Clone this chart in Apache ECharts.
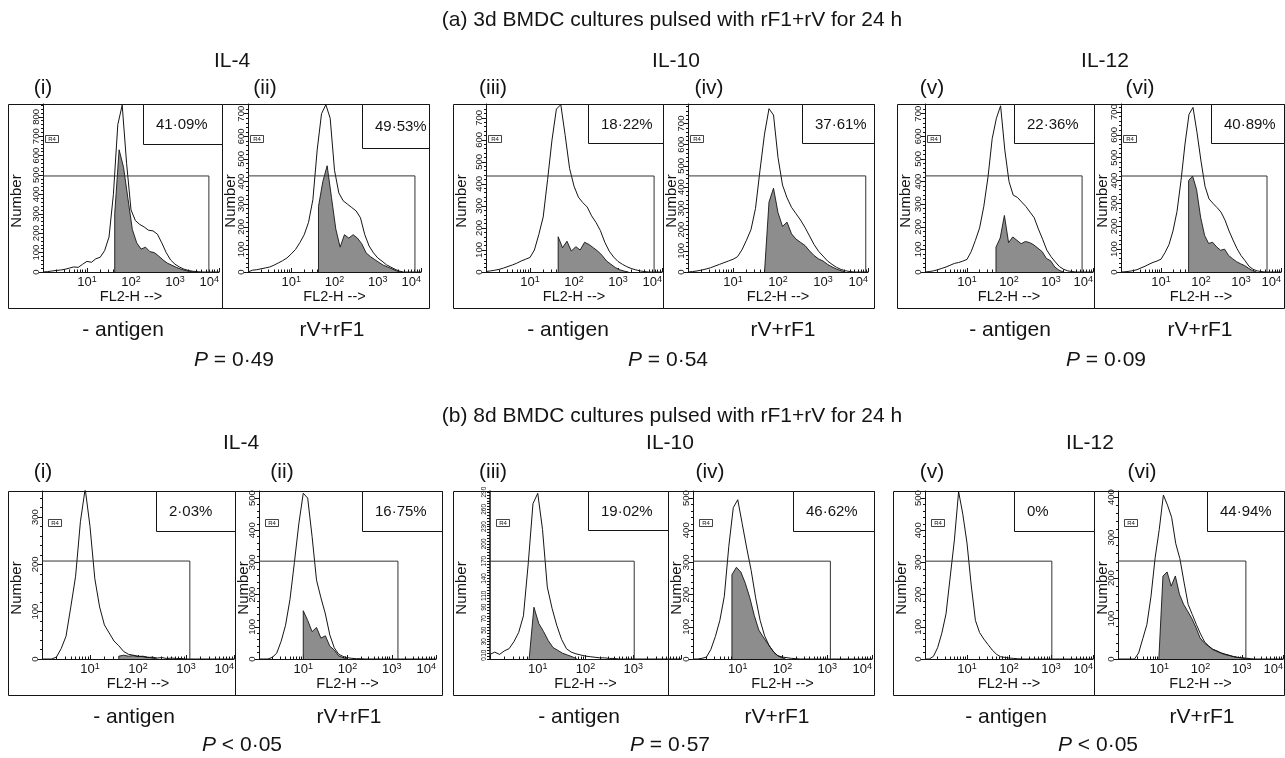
<!DOCTYPE html>
<html>
<head>
<meta charset="utf-8">
<title>BMDC cytokine flow histograms</title>
<script src="https://cdn.jsdelivr.net/npm/echarts@6/dist/echarts.min.js"></script>
<style>
html,body{margin:0;padding:0;background:#ffffff;}
#chart{width:1285px;height:758px;}
</style>
</head>
<body>
<div id="chart"></div>
<script>
// ================= DATA =================
// Histogram bins: log10(FL2-H) from 0 to 4, step 0.1 (41 bins). Values = event counts.
const binStep = 0.1;

// ---- (a) 3d BMDC cultures ----
const openA1 = [0,2,5,8,10,14,20,26,24,40,55,50,68,76,110,180,400,760,860,560,320,265,245,232,215,212,195,150,100,62,40,26,15,8,4,2,0,0,0,0,0];
const openA2 = [0,8,10,14,18,22,30,40,50,62,80,100,130,165,220,320,540,700,740,680,450,350,315,300,285,270,240,165,115,85,62,48,32,22,12,4,0,0,0,0,0];
const openA3 = [2,5,8,12,18,25,32,40,50,58,66,100,170,250,420,600,740,760,620,470,390,340,315,295,255,225,188,135,95,68,48,35,24,16,10,5,2,0,0,0,0];
const openA4 = [0,2,5,9,14,20,28,36,44,52,60,72,105,150,200,300,480,650,770,740,540,410,350,305,275,245,210,170,130,98,75,52,36,22,12,6,2,0,0,0,0];
const openA5 = [0,2,5,10,16,22,30,38,42,48,56,90,140,195,290,420,590,680,735,540,400,340,330,310,290,265,240,190,145,97,68,45,24,12,5,2,0,0,0,0,0];
const openA6 = [0,1,3,6,10,18,25,34,42,48,56,85,120,180,265,400,560,690,720,610,485,375,320,300,282,262,227,180,140,102,72,50,25,12,5,2,0,0,0,0,0];
// filled (stained) histograms: start bin (log10) and counts every 0.1
const fillStartA = [1.63,1.63,1.64,1.70,1.69,1.69];
const fillA1 = [300,630,540,380,220,150,118,128,105,100,82,62,45,35,24,15,8,3,0];
const fillA2 = [290,400,470,330,190,110,165,150,165,150,125,85,68,55,42,30,22,14,5,0];
const fillA3 = [160,110,140,95,115,100,135,125,110,95,75,50,35,20,10,4,0];
const fillA4 = [0,330,395,280,215,235,180,155,140,125,100,78,62,52,36,24,14,6,0];
const fillA5 = [110,150,250,130,155,140,125,135,130,120,105,90,60,50,22,8,0];
const fillA6 = [400,420,360,240,160,125,130,110,95,100,72,58,45,36,28,16,6,0];
const gateYA = [495,425,436,453,425,420];
const gateXA = [3.77,3.86,3.82,3.95,3.74,3.65];
const yMaxA = [866,743,763,792,743,735];
const pctA = ['41·09%','49·53%','18·22%','37·61%','22·36%','40·89%'];
const pValA = ['= 0·49','= 0·54','= 0·09'];

// ---- (b) 8d BMDC cultures ----
const openB1 = [0,0,0,4,22,48,110,175,290,360,280,170,110,72,55,38,28,16,10,8,6,5,3,4,2,3,1,2,1,1,0,0,0,0,0,0,0,0,0,0,0];
const openB2 = [0,0,0,5,18,55,105,185,300,420,515,500,380,245,190,140,75,35,15,8,4,2,1,1,0,0,0,0,0,0,0,0,0,0,0,0,0,0,0,0,0];
const openB3 = [8,12,8,14,18,30,46,75,165,270,288,225,125,88,58,34,18,12,9,7,5,4,3,2,2,1,1,0,0,0,0,0,0,0,0,0,0,0,0,0,0];
const openB4 = [0,0,2,6,30,70,120,195,350,470,495,420,345,275,190,120,72,42,22,10,6,4,2,1,0,0,0,0,0,0,0,0,0,0,0,0,0,0,0,0,0];
const openB5 = [0,0,8,35,80,140,255,370,520,450,360,230,120,82,62,45,28,15,7,5,3,2,1,0,0,0,0,0,0,0,0,0,0,0,0,0,0,0,0,0,0];
const openB6 = [0,0,0,0,0,15,50,85,155,250,320,405,380,350,285,248,190,135,110,85,62,42,32,24,20,15,12,9,6,4,3,2,1,0,0,0,0,0,0,0,0];
const fillStartB = [1.6,1.0,0.82,0.87,0,0.99];
const fillB1 = [6,8,6,7,5,6,4,2,0];
const fillB2 = [150,120,85,98,65,72,40,28,10,4,0];
const fillB3 = [0,90,62,48,32,20,15,10,7,4,0];
const fillB4 = [262,285,270,235,190,135,90,68,48,28,12,5,0];
const fillB5 = [];
const fillB6 = [0,205,215,180,205,160,135,118,100,78,52,40,32,24,19,15,11,9,6,4,3,1,0];
const gateYB = [207,304,170,304,304,242];
const gateXB = [3.08,3.14,3.02,3.07,3.02,3.10];
const yMaxB = [355,522,292,522,522,415];
const pctB = ['2·03%','16·75%','19·02%','46·62%','0%','44·94%'];
const pValB = ['< 0·05','= 0·57','< 0·05'];
const yLabelsB3 = [0,10,30,50,70,90,110,140,170,200,230,260,290];

// ---- text ----
const titles = ['(a) 3d BMDC cultures pulsed with rF1+rV for 24 h','(b) 8d BMDC cultures pulsed with rF1+rV for 24 h'];
const groupNames = ['IL-4','IL-10','IL-12'];
const panelNames = ['(i)','(ii)','(iii)','(iv)','(v)','(vi)'];
const condNames = ['- antigen','rV+rF1'];
const xDecadeLabels = [1,2,3,4];
const xDecadeLabelsB3 = [1,2,3];
const xName = 'FL2-H -->';
const yName = 'Number';
const regionName = 'R4';

// ================= LAYOUT (pixels) =================
const L = {
  rowTop:[104,491], plotH:168, frameBot:[308,695],
  axL:[[43,248,486,688,925,1121],[42,259,490,693,925,1118]],
  axR:[[219,421,662,868,1093,1281],[234,436,681,872,1093,1283]],
  frame:[[[8,222],[222,429],[453,663],[663,874],[897,1094],[1094,1284]],
         [[8,235],[235,442],[453,668],[668,874],[893,1094],[1094,1284]]],
  pctL:[[143,362,588,802,1014,1211],[156,362,588,793,1014,1207]],
  pctBot:[[144,148,143,143,143,143],[531,531,530,531,531,531]],
  panelLabX:[[43,265,493,709,932,1140],[43,282,493,710,932,1142]], panelLabY:[88,472],
  groupX:[[232,676,1105],[241,670,1090]], groupY:[61,443],
  titleX:672, titleY:[20,416],
  condX:[[123,332,568,783,1010,1200],[134,349,579,777,1006,1202]], condY:[330,717],
  pX:[[234,668,1106],[242,670,1098]], pY:[360,745],
  r4dx:[2,6], r4dy:[31,28]
};
const FONT = '"Liberation Sans", Arial, Helvetica, sans-serif';
const INK = '#141414';
const GRAY = '#8d8d8d';
const BIG = 21;

const rows = [
  {open:[openA1,openA2,openA3,openA4,openA5,openA6], fill:[fillA1,fillA2,fillA3,fillA4,fillA5,fillA6],
   fillStart:fillStartA, gateY:gateYA, gateX:gateXA, yMax:yMaxA, pct:pctA, pv:pValA},
  {open:[openB1,openB2,openB3,openB4,openB5,openB6], fill:[fillB1,fillB2,fillB3,fillB4,fillB5,fillB6],
   fillStart:fillStartB, gateY:gateYB, gateX:gateXB, yMax:yMaxB, pct:pctB, pv:pValB}
];

const minorTicks = [];
for (let d = 0; d < 4; d++) for (let k = 2; k <= 9; k++) minorTicks.push(+(d + Math.log10(k)).toFixed(4));
const r5 = v => +v.toFixed(3);

const grid = [], xAxis = [], yAxis = [], series = [], graphic = [];

function text(x, y, str, size, extra) {
  extra = extra || {};
  graphic.push({
    type:'text', x:x, y:y, rotation: extra.rot || 0, z: 50, silent:true,
    style:{text:str, fill:INK, fontSize:size, fontFamily:FONT, fontStyle: extra.fontStyle || 'normal',
      align: extra.align || 'center', verticalAlign:'middle',
      textAlign: extra.align || 'center', textVerticalAlign:'middle', rich: extra.rich}
  });
}
function rect(x, y, w, h, fill, z, lw) {
  graphic.push({type:'rect', z: z, silent:true,
    shape:{x:x + 0.5, y:y + 0.5, width:w, height:h},
    style:{fill:fill, stroke:INK, lineWidth: lw || 1}});
}

rows.forEach((R, r) => {
  for (let p = 0; p < 6; p++) {
    const gi = r * 6 + p;
    const left = L.axL[r][p], right = L.axR[r][p];
    const isB3 = (r === 1 && p === 2);
    grid.push({left:left, top:L.rowTop[r], width:right - left, height:L.plotH, containLabel:false, outerBoundsMode:'none'});

    const xl = isB3 ? xDecadeLabelsB3 : xDecadeLabels;
    xAxis.push({
      gridIndex:gi, type:'value', min:0, max:4, interval:1, position:'bottom',
      name:xName, nameLocation:'middle', nameGap:17,
      nameTextStyle:{fontSize:14.5, color:INK, fontFamily:FONT},
      axisLine:{show:true, onZero:false, lineStyle:{color:INK, width:1}},
      axisTick:{show:true, inside:true, length:4, lineStyle:{color:INK, width:1}},
      splitLine:{show:false},
      axisLabel:{show:true, customValues:xl, margin:3, color:INK, fontFamily:FONT,
        alignMaxLabel: xl[xl.length - 1] === 4 ? 'right' : undefined,
        formatter: v => '{b|10}{s|' + Math.round(v) + '}',
        rich:{b:{fontSize:13, fontFamily:FONT, color:INK, lineHeight:15},
              s:{fontSize:9, fontFamily:FONT, color:INK, lineHeight:15, verticalAlign:'top'}}}
    });
    xAxis.push({
      gridIndex:gi, type:'value', min:0, max:4, position:'bottom',
      axisLine:{show:false, onZero:false}, axisLabel:{show:false}, splitLine:{show:false},
      axisTick:{show:true, inside:true, length:2.5, customValues:minorTicks, lineStyle:{color:INK, width:1}}
    });

    const ym = R.yMax[p];
    let yl = [];
    if (isB3) yl = yLabelsB3; else for (let v = 0; v <= ym; v += 100) yl.push(v);
    const yTicksB3 = [];
    if (isB3) for (let v = 0; v <= 290; v += 5) yTicksB3.push(v);
    yAxis.push({
      gridIndex:gi, type:'value', min:0, max:ym, interval: isB3 ? 10 : 100,
      axisLine:{show:true, onZero:false, lineStyle:{color:INK, width: isB3 ? 1.5 : 1}},
      axisTick: isB3 ? {show:true, length:3, customValues:yTicksB3, lineStyle:{color:INK, width:1}}
                     : {show:true, length:4, lineStyle:{color:INK, width:1}},
      minorTick:{show:!isB3, splitNumber:5, length:2, lineStyle:{color:INK, width:1}},
      splitLine:{show:false}, minorSplitLine:{show:false},
      axisLabel:{show:true, customValues:yl, rotate:90, margin:2, color:INK, fontFamily:FONT,
        fontSize: isB3 ? 6.5 : 9.5, hideOverlap:false}
    });

    // filled (gray) histogram
    const fv = R.fill[p];
    if (fv.length) {
      const fs = R.fillStart[p];
      const fdata = [[fs, 0]].concat(fv.map((v, i) => [r5(fs + i * binStep), v]));
      series.push({type:'line', xAxisIndex:2 * gi, yAxisIndex:gi, data:fdata, symbol:'none', silent:true,
        lineStyle:{color:INK, width:0.9}, areaStyle:{color:GRAY, opacity:1}, z:2});
    }
    // open histogram
    series.push({type:'line', xAxisIndex:2 * gi, yAxisIndex:gi, symbol:'none', silent:true,
      data:R.open[p].map((v, i) => [r5(i * binStep), v]), lineStyle:{color:INK, width:1}, z:3});
    // marker gate
    const gy = R.gateY[p], gx = R.gateX[p];
    series.push({type:'line', xAxisIndex:2 * gi, yAxisIndex:gi, symbol:'none', silent:true,
      data:[[0, gy], [gx, gy], [gx, 0]], lineStyle:{color:'#333333', width:1}, z:4});

    // decorations
    const fr = L.frame[r][p];
    rect(fr[0], L.rowTop[r], fr[1] - fr[0], L.frameBot[r] - L.rowTop[r], 'none', 1);
    const pl = L.pctL[r][p], pb = L.pctBot[r][p];
    rect(pl, L.rowTop[r], fr[1] - pl, pb - L.rowTop[r], '#ffffff', 40);
    text(pl + 13, (L.rowTop[r] + pb) / 2 + 1, R.pct[p], 15, {align:'left'});
    // R4 region tag
    const rx = left + L.r4dx[r], ry = L.rowTop[r] + L.r4dy[r];
    rect(rx, ry, 13, 7, '#ffffff', 40, 0.8);
    text(rx + 7, ry + 4, regionName, 6);
    // axis title
    text(fr[0] + 9, L.rowTop[r] + 97, yName, 15, {rot:Math.PI / 2});
    // panel label
    text(L.panelLabX[r][p], L.panelLabY[r], panelNames[p], BIG);
    // condition label
    text(L.condX[r][p], L.condY[r], condNames[p % 2], BIG);
  }
  text(L.titleX, L.titleY[r], titles[r], BIG);
  for (let g = 0; g < 3; g++) {
    text(L.groupX[r][g], L.groupY[r], groupNames[g], BIG);
    text(L.pX[r][g], L.pY[r], '{i|P} ' + R.pv[g], BIG,
      {rich:{i:{fontStyle:'italic', fontSize:BIG, fontFamily:FONT, fill:INK}}});
  }
});

const chart = echarts.init(document.getElementById('chart'), null, {renderer:'canvas'});
chart.setOption({
  animation:false,
  backgroundColor:'#ffffff',
  textStyle:{fontFamily:FONT},
  grid:grid, xAxis:xAxis, yAxis:yAxis, series:series, graphic:graphic
});
</script>
</body>
</html>
